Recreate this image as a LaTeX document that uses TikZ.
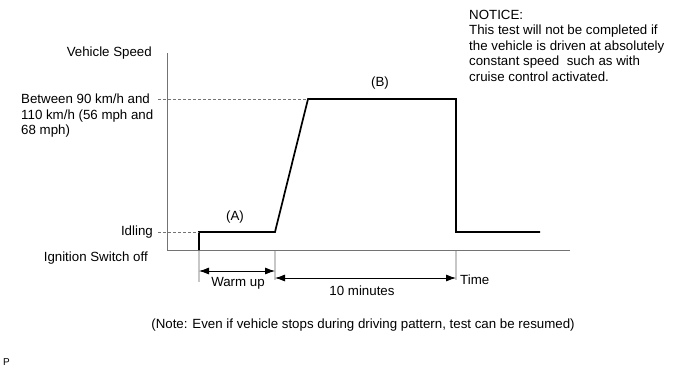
\documentclass[tikz,border=0pt]{standalone}
\usepackage{fontspec}
\setmainfont{Liberation Sans}
\usetikzlibrary{positioning,arrows.meta}

\begin{document}
\begin{tikzpicture}[x=1pt,y=-1pt,
        lbl/.style={font=\fontsize{13.3}{15.5}\selectfont, inner sep=0pt},
        axisline/.style={draw=black!55, line width=1pt},
        guide/.style={draw=black!55, dashed, dash pattern=on 3pt off 2pt, line width=0.6pt},
        signal/.style={draw=black, line width=1.7pt},
        extline/.style={draw=black!22, line width=2pt},
        dimline/.style={draw=black, line width=0.8pt,
            {Latex[length=10pt,width=7pt]}-{Latex[length=10pt,width=7pt]}}]
    \useasboundingbox (0,0) rectangle (691,370);

    % axes
    \coordinate (ytop) at (167,53);
    \coordinate (orig) at (167,250);
    \coordinate (xend) at (570,250);
    \draw[axisline] (ytop) -- (orig) -- (xend);

    % speed pattern
    \coordinate (s0) at (199,250);
    \coordinate (s1) at (199,232);
    \coordinate (s2) at (275,232);
    \coordinate (s3) at (308,99);
    \coordinate (s4) at (456,99);
    \coordinate (s5) at (456,232);
    \coordinate (s6) at (540,232);
    \draw[signal] (s0) -- (s1) -- (s2) -- (s3) -- (s4) -- (s5) -- (s6);

    % level guides
    \coordinate (idle) at (158,232);
    \coordinate (cruise) at (158,99);
    \draw[guide] (idle) -- (s1);
    \draw[guide] (cruise) -- (s3);

    % extension lines
    \coordinate (e0) at (199,282);
    \coordinate (e1) at (275,280);
    \coordinate (e2) at (456,280);
    \coordinate (e0t) at (199,251);
    \coordinate (e1t) at (275,251);
    \coordinate (e2t) at (456,251);
    \draw[extline] (e0t) -- (e0);
    \draw[extline] (e1t) -- (e1);
    \draw[extline] (e2t) -- (e2);

    % durations
    \coordinate (w0) at (199,271);
    \coordinate (w1) at (275,271);
    \coordinate (t0) at (275,278);
    \coordinate (t1) at (456,278);
    \draw[dimline] (w0) -- (w1);
    \draw[dimline] (t0) -- (t1);

    % labels
    \node[lbl, left=15pt of ytop] {Vehicle Speed};
    \node[lbl, anchor=north west, align=left] (between) at (21,94)
        {Between 90 km/h and\\110 km/h (56 mph and\\68 mph)};
    \node[lbl, left=5pt of idle] {Idling};
    \node[lbl, anchor=east] (ign) at (148,258) {Ignition Switch off};
    \node[lbl] (lblA) at (235,217) {(A)};
    \node[lbl] (lblB) at (380,83) {(B)};
    \node[lbl] (warm) at (238,283) {Warm up};
    \node[lbl] (tenmin) at (362,291) {10 minutes};
    \node[lbl, anchor=west] at (460,280) {Time};
    \node[lbl, anchor=north west, align=left] (notice) at (469,10)
        {NOTICE:\\This test will not be completed if\\the vehicle is driven at absolutely\\constant speed\ \ such as with\\cruise control activated.};
    \node[lbl] (note) at (363,325)
        {(Note: Even if vehicle stops during driving pattern, test can be resumed)};
    \node[font=\fontsize{10}{11}\selectfont, inner sep=0pt, anchor=west] (pmark) at (3,362) {P};
\end{tikzpicture}
\end{document}
